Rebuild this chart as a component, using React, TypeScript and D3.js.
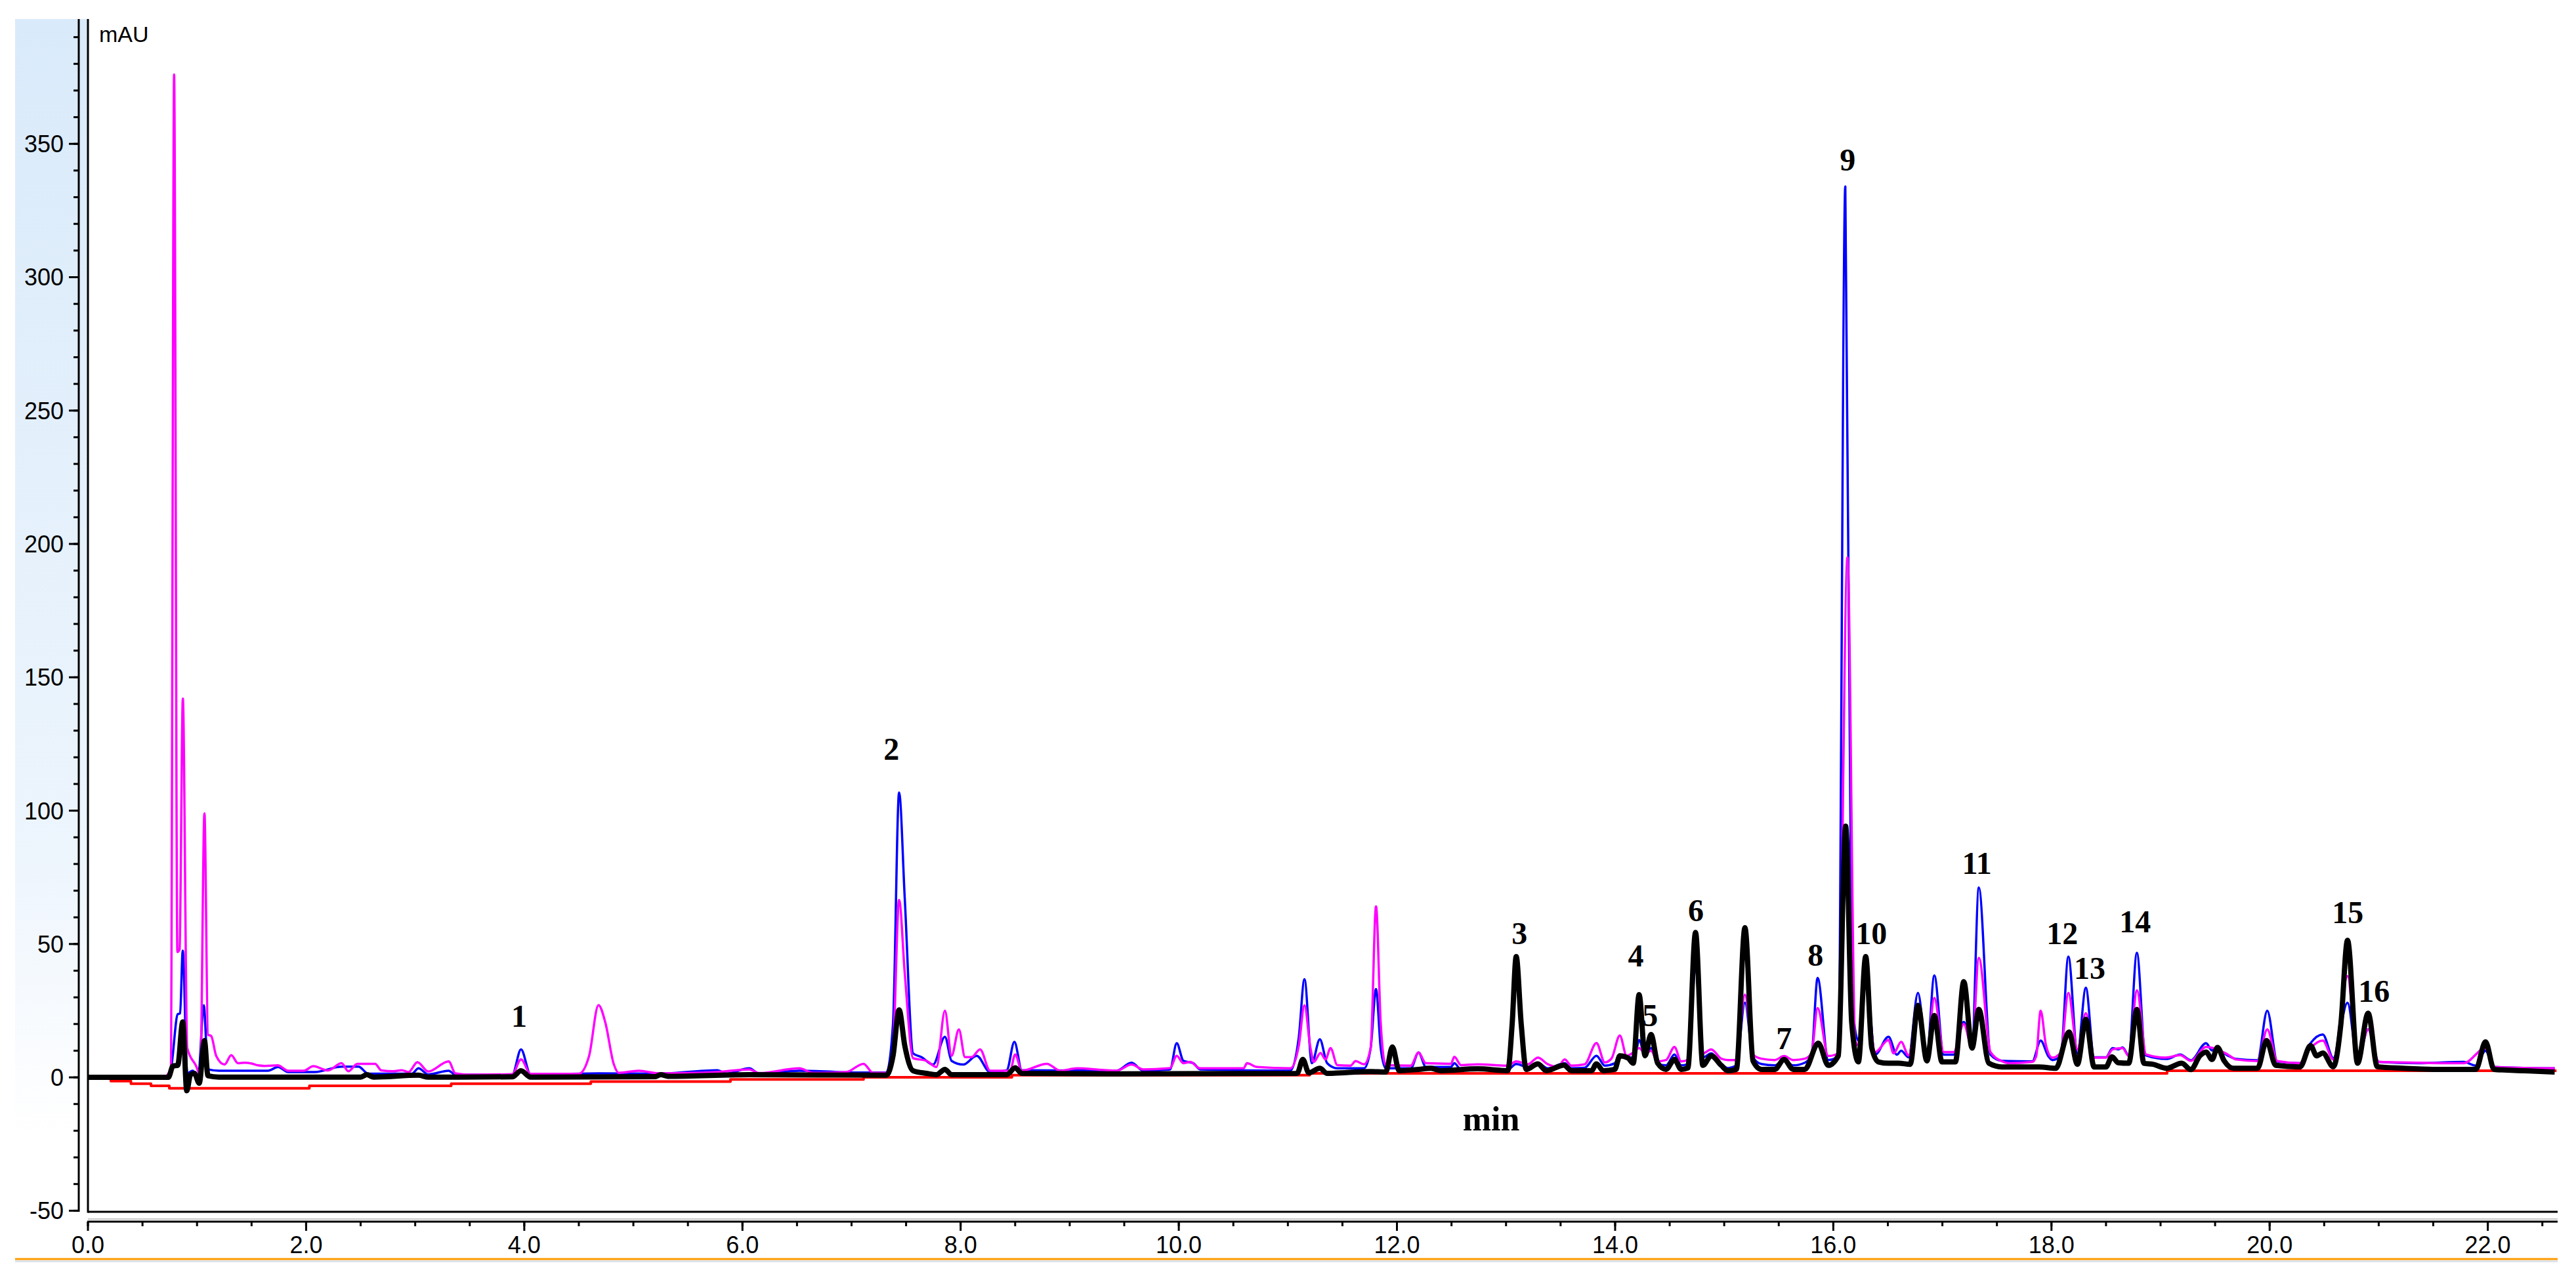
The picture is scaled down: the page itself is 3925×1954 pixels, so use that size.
import * as d3 from 'd3'

const W = 3925
const H = 1954

// [retention time (min), signal (mAU)]
const magentaTrace: [number, number][] = [
  [0, 0], [0.7, 0.3], [0.76, 3], [0.79, 376], [0.82, 47], [0.84, 48], [0.87, 142], [0.91, 11],
  [0.99, 4.4], [1.03, 1], [1.068, 99], [1.1, 16], [1.13, 15.5], [1.176, 8], [1.252, 4.8],
  [1.314, 8.3], [1.375, 5.3], [1.43, 5.5], [1.5, 5.2], [1.56, 4.5], [1.62, 4.3], [1.74, 4.5],
  [1.835, 2.5], [1.98, 2.5], [2.065, 4.2], [2.2, 2.6], [2.325, 5.3], [2.387, 2.3], [2.47, 5.1],
  [2.632, 5.1], [2.69, 2.6], [2.8, 2.3], [2.877, 2.7], [2.94, 2], [3.02, 5.7], [3.12, 2.2],
  [3.307, 6], [3.368, 1.5], [3.5, 1], [3.89, 1.2], [3.97, 6.7], [4.058, 1.3], [4.5, 1.3],
  [4.594, 8], [4.68, 27.1], [4.744, 20.4], [4.82, 5], [4.866, 1.7], [5.05, 2.5], [5.234, 1.5],
  [5.51, 1.6], [5.77, 2], [6.062, 3], [6.154, 1.6], [6.522, 3.4], [6.645, 1.7], [6.951, 2],
  [7.11, 5.1], [7.196, 1.7], [7.319, 1.7], [7.38, 11], [7.436, 66.5], [7.488, 39], [7.564, 7.2],
  [7.687, 6.2], [7.779, 3.9], [7.856, 25], [7.917, 8.1], [7.984, 18], [8.04, 7.6], [8.101, 7.6],
  [8.178, 10.5], [8.27, 2.5], [8.454, 2.5], [8.5, 8.6], [8.561, 2.5], [8.791, 5.1], [8.913, 2.5],
  [9.067, 3.4], [9.3, 2.8], [9.429, 2.5], [9.567, 4.8], [9.674, 3], [9.92, 3.5], [9.981, 8.1],
  [10.042, 5.3], [10.104, 5.8], [10.195, 3.4], [10.594, 3.4], [10.625, 5.3], [10.717, 3.9],
  [11.023, 3.4], [11.1, 11.9], [11.152, 27], [11.207, 11], [11.238, 5.8], [11.299, 9.1],
  [11.345, 6.7], [11.391, 11], [11.453, 4.6], [11.575, 4.4], [11.621, 6.1], [11.698, 4.9],
  [11.759, 11], [11.808, 64.1], [11.851, 20.4], [11.897, 4.6], [12.127, 4.4], [12.198, 9.3],
  [12.265, 5.3], [12.495, 5.1], [12.526, 7.7], [12.587, 4.6], [12.74, 4.9], [13.016, 4.4],
  [13.093, 6], [13.2, 4.9], [13.292, 7.4], [13.384, 4.9], [13.476, 3.9], [13.537, 6.7],
  [13.599, 4.4], [13.721, 4.9], [13.829, 12.9], [13.905, 5.6], [13.967, 7.1], [14.043, 15.7],
  [14.105, 8.1], [14.166, 9.3], [14.22, 11], [14.274, 9], [14.329, 10], [14.39, 6], [14.467, 6.5],
  [14.544, 11.4], [14.605, 6], [14.666, 6.5], [14.737, 42], [14.804, 9], [14.881, 10.5],
  [14.973, 7], [15.034, 6.5], [15.111, 6.5], [15.19, 31], [15.264, 8.5], [15.341, 7],
  [15.463, 6.5], [15.549, 8], [15.632, 6.5], [15.739, 7], [15.8, 9], [15.856, 26], [15.954, 8],
  [16.046, 9], [16.13, 195], [16.2, 14], [16.23, 12], [16.297, 36], [16.383, 9.5], [16.506, 14],
  [16.553, 9], [16.622, 13.3], [16.69, 8.2], [16.776, 25], [16.858, 9.5], [16.926, 29.8],
  [17.012, 9.5], [17.104, 9.5], [17.196, 20], [17.272, 11], [17.334, 44.8], [17.441, 9.5],
  [17.548, 6], [17.61, 5.3], [17.824, 5.8], [17.86, 8], [17.901, 25], [17.95, 12], [18.008, 7.4],
  [18.085, 9.3], [18.155, 31.7], [18.238, 10.5], [18.315, 24.1], [18.391, 7.4], [18.499, 7.4],
  [18.56, 10.5], [18.652, 11], [18.708, 8], [18.784, 32.6], [18.867, 8.6], [19.045, 7.4],
  [19.18, 8.3], [19.278, 6.2], [19.417, 11.4], [19.611, 8.7], [19.695, 6.7], [19.889, 6.1],
  [19.978, 18], [20.07, 6.1], [20.278, 5.3], [20.375, 11], [20.487, 13.8], [20.584, 6.7],
  [20.714, 38], [20.806, 6], [20.903, 18], [21, 5.8], [21.362, 5.5], [21.779, 5.3], [21.979, 11],
  [22.057, 3.9], [22.613, 3.4],
]

const blueTrace: [number, number][] = [
  [0, 0], [0.72, 0.2], [0.76, 3], [0.823, 23.7], [0.845, 24], [0.869, 47.5], [0.91, 1.5],
  [0.96, 2.5], [1.01, 0], [1.062, 27], [1.1, 3], [1.2, 2.5], [1.65, 2.5], [1.743, 3.9],
  [1.835, 2], [2.08, 2], [2.325, 4], [2.48, 4], [2.57, 1.4], [2.97, 1.4], [3.03, 3.4], [3.12, 1.1],
  [3.307, 2.5], [3.368, 1], [3.89, 1], [3.97, 10.5], [4.058, 1], [4.68, 1.5], [5.234, 1.4],
  [5.77, 2.7], [5.85, 1.4], [6.062, 3.4], [6.154, 1.4], [6.522, 2.5], [7.07, 1.8], [7.319, 1.8],
  [7.38, 20], [7.436, 106.8], [7.488, 67], [7.564, 9], [7.641, 7.6], [7.748, 4.8], [7.856, 15.2],
  [7.917, 6.2], [8.024, 4.8], [8.147, 8.1], [8.27, 2], [8.423, 2.7], [8.493, 13.3], [8.561, 2.7],
  [9.429, 2.5], [9.567, 5.5], [9.674, 2.5], [9.92, 3], [9.981, 12.8], [10.042, 6.2],
  [10.134, 5.3], [10.195, 3], [11.023, 2.5], [11.1, 15], [11.152, 36.8], [11.22, 5.3],
  [11.293, 14.3], [11.36, 5.3], [11.453, 3.4], [11.698, 3.4], [11.759, 11], [11.808, 33.1],
  [11.851, 11], [11.897, 3.4], [12.127, 3.4], [12.198, 9.3], [12.265, 3.9], [12.495, 3.9],
  [12.526, 5.3], [12.587, 2.9], [13.016, 2.9], [13.093, 5], [13.2, 3.9], [13.292, 5.3],
  [13.384, 3.4], [13.537, 5.3], [13.599, 3.4], [13.721, 3.6], [13.829, 8.1], [13.905, 4.4],
  [13.997, 5.3], [14.043, 8.6], [14.12, 7.2], [14.181, 8.1], [14.22, 14], [14.274, 8],
  [14.329, 11], [14.39, 5], [14.467, 4.5], [14.544, 8.6], [14.605, 4.5], [14.666, 5],
  [14.737, 40], [14.804, 7.5], [14.881, 9], [14.973, 5], [15.034, 3.5], [15.111, 4.5],
  [15.19, 28], [15.264, 7.5], [15.341, 5], [15.463, 4.5], [15.549, 6.5], [15.632, 4.5],
  [15.739, 5.5], [15.8, 8], [15.856, 37.3], [15.954, 6.5], [16.046, 8], [16.11, 334],
  [16.17, 30], [16.23, 13.8], [16.297, 40], [16.383, 8.5], [16.506, 15.2], [16.583, 8.5],
  [16.622, 10], [16.69, 7.5], [16.776, 31.7], [16.858, 8.5], [16.926, 38.2], [17.012, 8.5],
  [17.104, 8.5], [17.196, 20.8], [17.272, 12], [17.334, 71.2], [17.441, 8.5], [17.548, 6.2],
  [17.824, 6], [17.901, 13.8], [17.97, 8], [18.008, 6.5], [18.085, 8], [18.155, 45.3],
  [18.238, 9], [18.315, 33.6], [18.391, 7.5], [18.499, 7.5], [18.56, 11], [18.611, 10.5],
  [18.652, 11.2], [18.708, 8.3], [18.783, 46.7], [18.861, 8.3], [19.055, 6.9], [19.18, 8.6],
  [19.278, 6.4], [19.417, 12.8], [19.472, 10.1], [19.514, 10.5], [19.611, 8.3], [19.695, 6.9],
  [19.889, 6.4], [19.978, 25], [20.07, 5.9], [20.278, 5.3], [20.375, 12.8], [20.487, 16.1],
  [20.584, 7.2], [20.714, 28], [20.806, 6.5], [20.903, 18], [21, 5.8], [21.362, 5.3],
  [21.779, 5.8], [21.89, 4.4], [21.979, 10], [22.057, 3.9], [22.613, 3.4],
]

const blackTrace: [number, number][] = [
  [0, 0], [0.737, 0], [0.78, 4.3], [0.823, 4.5], [0.869, 20.8], [0.906, -5], [0.94, 1],
  [0.976, 1.5], [1.02, -2.2], [1.068, 13.8], [1.1, 0.6], [1.2, 0.1], [2.5, 0.1], [2.556, 1],
  [2.62, 0.1], [3.03, 0.8], [3.12, 0.1], [3.89, 0.2], [3.97, 2.5], [4.058, 0.1], [5.2, 0.3],
  [5.25, 1], [5.32, 0.4], [6.062, 1], [7.319, 0.8], [7.38, 8], [7.436, 25.3], [7.488, 11.9],
  [7.564, 2.5], [7.687, 1.5], [7.779, 1], [7.856, 3], [7.917, 1], [8.423, 1], [8.5, 3.6],
  [8.561, 1.5], [9.429, 1.3], [11.085, 1.5], [11.137, 6.7], [11.192, 1.7], [11.293, 3.4],
  [11.36, 1.5], [11.759, 2.2], [11.897, 2], [11.958, 11.4], [12.02, 2.5], [12.198, 3],
  [12.311, 3.4], [12.4, 2.5], [12.74, 3.2], [13.016, 2.5], [13.056, 20], [13.093, 45.3],
  [13.139, 20], [13.185, 3], [13.292, 5.1], [13.369, 2.5], [13.531, 4.6], [13.599, 2.5],
  [13.783, 2.5], [13.829, 5.1], [13.89, 2.5], [13.997, 3], [14.043, 8.1], [14.12, 7.2],
  [14.166, 5.3], [14.22, 31], [14.274, 8.1], [14.329, 16.1], [14.39, 5.3], [14.467, 3],
  [14.544, 6.7], [14.605, 3], [14.666, 3.5], [14.737, 54.3], [14.804, 4.5], [14.881, 8.1],
  [14.973, 4.5], [15.034, 2.5], [15.111, 3], [15.19, 56.1], [15.264, 6.2], [15.341, 3],
  [15.463, 3], [15.549, 6.7], [15.632, 3], [15.739, 3], [15.862, 12.8], [15.954, 4.5],
  [16.046, 8.1], [16.113, 94.2], [16.169, 20.4], [16.23, 5.8], [16.297, 45.3], [16.353, 11],
  [16.414, 5.8], [16.506, 5.3], [16.598, 5.3], [16.705, 4.9], [16.776, 27], [16.858, 6.2],
  [16.926, 23.2], [16.996, 5.8], [17.119, 5.8], [17.196, 35.9], [17.272, 11], [17.334, 25.5],
  [17.426, 5.3], [17.548, 3.9], [17.701, 3.9], [17.886, 3.9], [18.039, 3.4], [18.161, 17],
  [18.238, 4.9], [18.315, 21.8], [18.391, 3.9], [18.499, 3.9], [18.555, 7.7], [18.611, 5.5],
  [18.708, 5.3], [18.783, 25.5], [18.847, 5.3], [18.93, 4.9], [19.055, 3.4], [19.194, 5.3],
  [19.278, 2.9], [19.361, 8.1], [19.417, 9.5], [19.472, 6.7], [19.522, 11.2], [19.583, 6.2],
  [19.667, 3.4], [19.889, 3.4], [19.972, 13.8], [20.056, 4.5], [20.278, 3.9], [20.375, 11.9],
  [20.431, 8.1], [20.487, 9.1], [20.584, 4], [20.653, 20], [20.714, 51.4], [20.806, 5.3],
  [20.903, 24.1], [20.987, 4], [21.223, 3.4], [21.5, 3], [21.89, 3], [21.979, 13.3],
  [22.057, 3], [22.335, 2.5], [22.613, 2],
]

// stepped integration baseline (red)
const baselineSteps: [number, number][] = [
  [0, 0], [0.21, -1.4], [0.394, -2.4], [0.578, -3.2], [0.746, -4.1], [2.03, -3.2],
  [3.33, -2.4], [4.61, -1.6], [5.89, -0.8], [7.11, 0], [8.47, 0.8], [11.2, 1.5],
  [19.06, 2.5], [22.63, 2.5],
]

const peakLabels = ['1', '2', '3', '4', '5', '6', '7', '8', '9', '10', '11', '12', '13', '14', '15', '16']
const peakLabelTimes = [3.953, 7.365, 13.123, 14.19, 14.32, 14.741, 15.548, 15.837, 16.131, 16.348, 17.316, 18.099, 18.351, 18.767, 20.716, 20.957]
const peakLabelLevels = [18.9, 119, 49.9, 41.6, 19.2, 58.5, 10.6, 41.8, 340, 49.9, 76.2, 49.9, 36.9, 54.4, 57.8, 28.3]

const yMajorTicks = [-50, 0, 50, 100, 150, 200, 250, 300, 350]
const xMajorTicks = [0, 2, 4, 6, 8, 10, 12, 14, 16, 18, 20, 22]

const left = 134
const right = 3897
const top = 29
const bottom = 1847
const axisY = 1862
const yAxisX = 120

export default function App() {
  const x = d3.scaleLinear().domain([0, 22.64]).range([left, right])
  const y = d3.scaleLinear().domain([-50.4, 396.8]).range([bottom, top])

  const line = d3
    .line<[number, number]>()
    .x((d) => x(d[0]))
    .y((d) => y(d[1]))
    .curve(d3.curveMonotoneX)
  const stepLine = d3
    .line<[number, number]>()
    .x((d) => x(d[0]))
    .y((d) => y(d[1]))
    .curve(d3.curveStepAfter)

  const yMinor = d3.range(-50, 391, 10)
  const xMinor = d3.range(0, 22.51, 0.5)
  const fmt = d3.format('.1f')

  const tickFont = { fontFamily: '"Liberation Sans", Arial, sans-serif', fontSize: 36 }
  const peakFont = { fontFamily: '"Liberation Serif", "Times New Roman", serif', fontWeight: 700 }

  return (
    <div style={{ position: 'absolute', left: 0, top: 0 }}>
      <svg width={W} height={H} style={{ display: 'block', background: '#fff' }}>
        <defs>
          <linearGradient id="panel" x1="0" y1="0" x2="0" y2="1">
            <stop offset="0" stopColor="#d9eafa" />
            <stop offset="0.75" stopColor="#edf5fd" />
            <stop offset="1" stopColor="#ffffff" />
          </linearGradient>
          <clipPath id="plot">
            <rect x={left} y={top} width={right - left} height={bottom - top} />
          </clipPath>
        </defs>

        <rect x={23} y={top} width={left - 23} height={1730 - top} fill="url(#panel)" />

        {/* y axis */}
        <line x1={yAxisX} x2={yAxisX} y1={top} y2={bottom} stroke="#000" strokeWidth={3} />
        {yMinor.map((v) => (
          <line key={'ym' + v} x1={yAxisX - 8} x2={yAxisX} y1={y(v)} y2={y(v)} stroke="#000" strokeWidth={3} />
        ))}
        {yMajorTicks.map((v) => (
          <g key={'yM' + v}>
            <line x1={yAxisX - 15} x2={yAxisX} y1={y(v)} y2={y(v)} stroke="#000" strokeWidth={3} />
            <text x={97} y={y(v)} dy="0.36em" textAnchor="end" fill="#000" {...tickFont}>
              {v}
            </text>
          </g>
        ))}
        <text x={151} y={64} fill="#000" {...tickFont} fontSize={34}>
          mAU
        </text>

        {/* plot frame */}
        <line x1={left} x2={left} y1={top} y2={bottom + 1.5} stroke="#000" strokeWidth={3} />
        <line x1={left} x2={right} y1={bottom} y2={bottom} stroke="#000" strokeWidth={3} />
        <line x1={left} x2={right} y1={1858} y2={1858} stroke="#c8c8c8" strokeWidth={2} />

        {/* x axis */}
        <line x1={left - 1} x2={right} y1={axisY} y2={axisY} stroke="#000" strokeWidth={3} />
        {xMinor.map((t) => (
          <line key={'xm' + t} x1={x(t)} x2={x(t)} y1={axisY} y2={1869} stroke="#000" strokeWidth={3} />
        ))}
        {xMajorTicks.map((t) => (
          <g key={'xM' + t}>
            <line x1={x(t)} x2={x(t)} y1={axisY} y2={1876} stroke="#000" strokeWidth={3} />
            <text x={x(t)} y={1910} textAnchor="middle" fill="#000" {...tickFont}>
              {fmt(t)}
            </text>
          </g>
        ))}
        <line x1={23} x2={right} y1={1919} y2={1919} stroke="#ff9900" strokeWidth={3} />
        <line x1={23} x2={right} y1={1922.5} y2={1922.5} stroke="#dde3ea" strokeWidth={3} />

        {/* traces */}
        <g clipPath="url(#plot)" fill="none" strokeLinejoin="round">
          <path d={stepLine(baselineSteps) ?? ''} stroke="#ff0000" strokeWidth={4} />
          <path d={line(blueTrace) ?? ''} stroke="#0000ff" strokeWidth={3.5} />
          <path d={line(magentaTrace) ?? ''} stroke="#ff00ff" strokeWidth={3.5} />
          <path d={line(blackTrace) ?? ''} stroke="#000000" strokeWidth={8} />
        </g>

        {/* peak numbers */}
        {peakLabels.map((lab, i) => (
          <text
            key={'p' + lab}
            x={x(peakLabelTimes[i])}
            y={y(peakLabelLevels[i])}
            textAnchor="middle"
            fill="#000"
            fontSize={48}
            {...peakFont}
          >
            {lab}
          </text>
        ))}
        <text x={x(12.864)} y={y(-19.9)} textAnchor="middle" fill="#000" fontSize={52} {...peakFont}>
          min
        </text>
      </svg>
    </div>
  )
}
